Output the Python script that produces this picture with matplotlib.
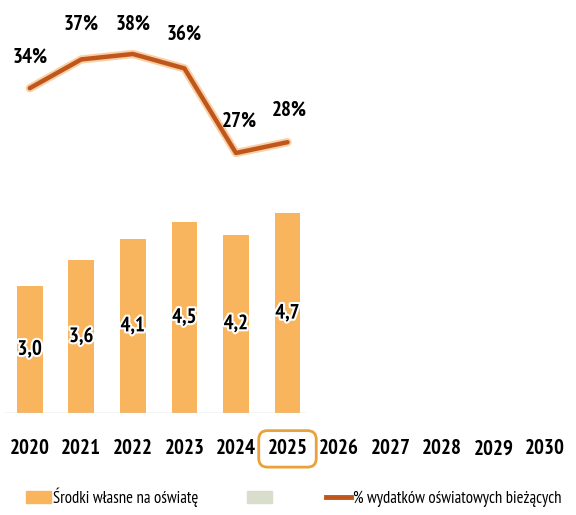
import numpy as np
import matplotlib
matplotlib.use("Agg")
import matplotlib.pyplot as plt
import matplotlib.patheffects as pe
from matplotlib.patches import Patch
from matplotlib.lines import Line2D

years = ['2020', '2021', '2022', '2023', '2024', '2025',
         '2026', '2027', '2028', '2029', '2030']
own_funds = [3.0, 3.6, 4.1, 4.5, 4.2, 4.7]          # mld zł, 2020-2025
share_pct = [34.2, 37.4, 38.0, 36.4, 27.0, 28.2]    # % wydatków bieżących
bar_labels = ['3,0', '3,6', '4,1', '4,5', '4,2', '4,7']
legend_labels = ['Środki własne na oświatę', ' ', '% wydatków oświatowych bieżących']

bar_color = '#F9B55E'
line_color = '#C0561B'
grey_color = '#D9DDCC'

plt.rcParams['font.family'] = ['PT Sans Narrow', 'DejaVu Sans']

fig = plt.figure(figsize=(5.76, 5.15), dpi=100)
ax = fig.add_axes([4 / 576, 102 / 515, 567 / 576, 413 / 515])
ax2 = ax.twinx()

x = np.arange(len(years))
xb = x[:len(own_funds)]

ax.bar(xb, own_funds, width=0.5, color=bar_color, zorder=2)
ax.hlines(0, -0.55, 5.35, color='#C8CCD4', lw=1, zorder=3)
for xi, v, lab in zip(xb, own_funds, bar_labels):
    ax.text(xi, v / 2, lab, ha='center', va='center', fontsize=15,
            fontweight='bold', color='black',
            path_effects=[pe.withStroke(linewidth=3, foreground='white')])

ax.set_xlim(-0.5, 10.5)
ax.set_ylim(0, 413 / 42.5)

ax2.plot(xb, share_pct, color='#F3B36A', lw=6, alpha=0.6, solid_capstyle='round', zorder=2)
ax2.plot(xb, share_pct, color=line_color, lw=3.2, solid_capstyle='round', zorder=3)
ax2.set_ylim(27 - 260 / 9, 27 + 153 / 9)

offsets = [(0, 31), (0, 35), (0, 30), (0, 34), (3, 32), (2, 32)]
for xi, v, (dx, dy) in zip(xb, share_pct, offsets):
    ax2.annotate(f'{v:.0f}%', (xi, v), xytext=(dx, dy), textcoords='offset pixels',
                 ha='center', va='center', fontsize=15, fontweight='bold', color='black')

for a in (ax, ax2):
    for s in a.spines.values():
        s.set_visible(False)
ax2.set_yticks([])
ax.set_yticks([])
ax.set_xticks(x)
ax.set_xticklabels(years, fontsize=15, fontweight='bold')
ax.tick_params(axis='x', length=0, pad=19)
lab25 = ax.get_xticklabels()[5]
lab25.set_bbox(dict(boxstyle='round,pad=0.42', fc='none', ec='#E9A23A', lw=2))

handles = [Patch(color=bar_color), Patch(color=grey_color),
           Line2D([0], [0], color=line_color, lw=3.5)]
fig.legend(handles, legend_labels, loc='center', bbox_to_anchor=(0.51, 0.035),
           ncol=3, frameon=False, fontsize=12, handlelength=1.5, handleheight=0.7,
           handletextpad=0.12, columnspacing=2.9)

fig.savefig('out.png', dpi=100)
